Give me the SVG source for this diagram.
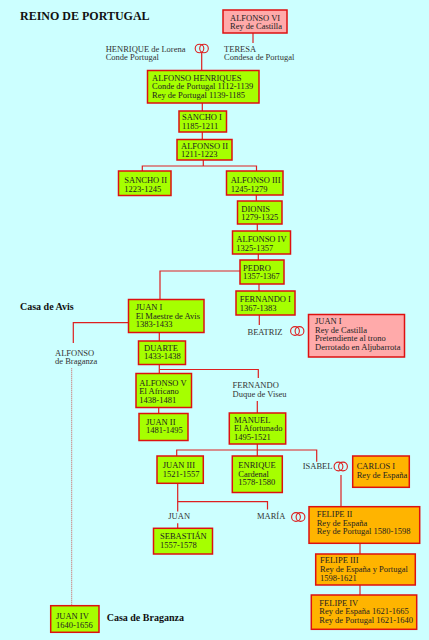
<svg xmlns="http://www.w3.org/2000/svg" width="429" height="640" viewBox="0 0 429 640">
<style>
.bg{fill:#ccffff}
rect.g{fill:#a6ff00;stroke:#dd1111;stroke-width:1.5}
rect.p{fill:#ffaaaa;stroke:#dd1111;stroke-width:1.5}
rect.o{fill:#ffb400;stroke:#dd1111;stroke-width:1.5}
text{font-family:"Liberation Serif","Times New Roman",serif;font-size:8.5px;fill:#222}
text.l{fill:#333}
text.h{font-weight:bold;font-size:10px;fill:#111}
text.t{font-weight:bold;font-size:12px;fill:#111}
.c path{fill:none;stroke:#dd2020;stroke-width:1.2}
.c path.d{stroke:#cc5555;stroke-width:1;stroke-dasharray:1 1}
.r circle{fill:none;stroke:#dd2020;stroke-width:1.1}
</style>
<rect class="bg" x="0" y="0" width="429" height="640"/>
<text class="t" x="20" y="20">REINO DE PORTUGAL</text>
<text class="h" x="20" y="310">Casa de Avis</text>
<text class="h" x="106.7" y="620.7">Casa de Braganza</text>

<g class="c" id="connectors">
<path d="M201.7 53V70"/>
<path d="M253 33V43"/>
<path d="M202.3 103V111"/>
<path d="M202.3 132V139.5"/>
<path d="M203.3 160V166"/>
<path d="M142.3 171V166H256.5V171"/>
<path d="M256.3 195V201"/>
<path d="M257.3 224V231"/>
<path d="M258.3 254V260"/>
<path d="M259 284V291"/>
<path d="M259.3 315V325"/>
<path d="M240 271H160V299.5"/>
<path d="M128.5 322.7H73.3V343"/>
<path class="d" d="M71.7 368.3V605.7"/>
<path d="M159.3 332.7V341"/>
<path d="M159.3 364.3V373.5"/>
<path d="M159.3 369.5H258.3V378"/>
<path d="M158.7 407.3V413.5"/>
<path d="M257.3 401V413"/>
<path d="M257.3 444V456"/>
<path d="M176.7 456V450H316.7V461.7"/>
<path d="M341 475V506.7"/>
<path d="M177.7 483.3V511.5"/>
<path d="M177.7 501.7H267.5V509.5"/>
<path d="M177.7 523.3V528.3"/>
<path d="M360 543.3V554"/>
<path d="M360 585V595"/>
</g>

<g id="rings" class="r">
<circle cx="199.5" cy="48.5" r="4.3"/><circle cx="204" cy="48.5" r="4.3"/>
<circle cx="295" cy="331" r="4.4"/><circle cx="299.5" cy="331" r="4.4"/>
<circle cx="338.5" cy="466.5" r="4.4"/><circle cx="343" cy="466.5" r="4.4"/>
<circle cx="296" cy="517" r="4.4"/><circle cx="300.5" cy="517" r="4.4"/>
</g>

<g id="alfonso6"><rect class="p" x="223" y="10" width="64" height="23"/>
<text x="230" y="20.5">ALFONSO VI</text><text x="230" y="29.2">Rey de Castilla</text></g>
<g id="henrique"><text class="l" x="105.7" y="51.7">HENRIQUE de Lorena</text><text class="l" x="105.7" y="60.2">Conde Portugal</text></g>
<g id="teresa"><text class="l" x="224" y="51.7">TERESA</text><text class="l" x="224" y="60.2">Condesa de Portugal</text></g>
<g id="afh"><rect class="g" x="147.5" y="70.5" width="111.5" height="32.5"/>
<text x="152" y="80.7">ALFONSO HENRIQUES</text><text x="152" y="89.3">Conde de Portugal 1112-1139</text><text x="152" y="97.9">Rey de Portugal 1139-1185</text></g>
<g id="sancho1"><rect class="g" x="179" y="111" width="47.5" height="21"/>
<text x="182" y="120.2">SANCHO I</text><text x="182" y="128.6">1185-1211</text></g>
<g id="alfonso2"><rect class="g" x="177" y="139.5" width="55" height="20.5"/>
<text x="181" y="148.5">ALFONSO II</text><text x="181" y="156.8">1211-1223</text></g>
<g id="sancho2"><rect class="g" x="118.5" y="171" width="52.5" height="24.5"/>
<text x="124.3" y="183.3">SANCHO II</text><text x="124.3" y="191.7">1223-1245</text></g>
<g id="alfonso3"><rect class="g" x="226.5" y="171" width="56.5" height="24"/>
<text x="230.7" y="183.3">ALFONSO III</text><text x="230.7" y="191.7">1245-1279</text></g>
<g id="dionis"><rect class="g" x="237.5" y="201" width="44.5" height="23"/>
<text x="241.3" y="211.7">DIONIS</text><text x="241.3" y="220">1279-1325</text></g>
<g id="alfonso4"><rect class="g" x="232.5" y="231" width="58" height="23"/>
<text x="236.3" y="242.3">ALFONSO IV</text><text x="236.3" y="250.7">1325-1357</text></g>
<g id="pedro"><rect class="g" x="240" y="260" width="44" height="24"/>
<text x="243" y="270.7">PEDRO</text><text x="243" y="279.3">1357-1367</text></g>
<g id="fernando1"><rect class="g" x="236" y="291" width="59" height="24"/>
<text x="239.7" y="302.3">FERNANDO I</text><text x="239.7" y="310.7">1367-1383</text></g>
<g id="beatriz"><text class="l" x="247.5" y="334.5">BEATRIZ</text></g>
<g id="juan1castilla"><rect class="p" x="308.5" y="314.5" width="96" height="42.5"/>
<text x="315" y="323.8">JUAN I</text><text x="315" y="332.5">Rey de Castilla</text><text x="315" y="341.2">Pretendiente al trono</text><text x="315" y="349.9">Derrotado en Aljubarrota</text></g>
<g id="juan1"><rect class="g" x="128.5" y="299.5" width="75.5" height="33"/>
<text x="135.7" y="310">JUAN I</text><text x="135.7" y="318.6">El Maestre de Avis</text><text x="135.7" y="327.3">1383-1433</text></g>
<g id="alfonsobraganza"><text class="l" x="55" y="355.7">ALFONSO</text><text class="l" x="55" y="364.3">de Braganza</text></g>
<g id="duarte"><rect class="g" x="138.5" y="341" width="47" height="23.5"/>
<text x="144" y="350.7">DUARTE</text><text x="144" y="359.3">1433-1438</text></g>
<g id="alfonso5"><rect class="g" x="136" y="373.5" width="55.5" height="34"/>
<text x="139.3" y="386">ALFONSO V</text><text x="139.3" y="394.4">El Africano</text><text x="139.3" y="402.8">1438-1481</text></g>
<g id="juan2"><rect class="g" x="139" y="413.5" width="49" height="27"/>
<text x="146" y="425">JUAN II</text><text x="146" y="433.4">1481-1495</text></g>
<g id="fernandoviseu"><text class="l" x="232.5" y="388.3">FERNANDO</text><text class="l" x="232.5" y="396.7">Duque de Viseu</text></g>
<g id="manuel"><rect class="g" x="229.3" y="413" width="56.4" height="31"/>
<text x="234" y="422.7">MANUEL</text><text x="234" y="431.1">El Afortunado</text><text x="234" y="439.5">1495-1521</text></g>
<g id="juan3"><rect class="g" x="157" y="456" width="46.3" height="27.3"/>
<text x="162.7" y="468.3">JUAN III</text><text x="162.7" y="477">1521-1557</text></g>
<g id="enrique"><rect class="g" x="232.3" y="456" width="50" height="36.5"/>
<text x="238.3" y="468.3">ENRIQUE</text><text x="238.3" y="476.8">Cardenal</text><text x="238.3" y="485.3">1578-1580</text></g>
<g id="isabel"><text class="l" x="302.7" y="469.3">ISABEL</text></g>
<g id="carlos1"><rect class="o" x="352.7" y="456" width="56.6" height="31.3"/>
<text x="356.7" y="469.3">CARLOS I</text><text x="356.7" y="477.8">Rey de España</text></g>
<g id="felipe2"><rect class="o" x="309" y="506.7" width="110.7" height="36.6"/>
<text x="316.7" y="516.7">FELIPE II</text><text x="316.7" y="525.5">Rey de España</text><text x="316.7" y="534.3">Rey de Portugal 1580-1598</text></g>
<g id="juan"><text class="l" x="168.3" y="519.3">JUAN</text></g>
<g id="maria"><text class="l" x="257" y="519.3">MARÍA</text></g>
<g id="sebastian"><rect class="g" x="153.5" y="528.3" width="59" height="25.7"/>
<text x="160" y="539">SEBASTIÁN</text><text x="160" y="547.7">1557-1578</text></g>
<g id="felipe3"><rect class="o" x="315.7" y="554" width="99.6" height="31"/>
<text x="320" y="563.3">FELIPE III</text><text x="320" y="572.2">Rey de España y Portugal</text><text x="320" y="581">1598-1621</text></g>
<g id="felipe4"><rect class="o" x="311.3" y="595" width="105.4" height="34.3"/>
<text x="319.3" y="605.7">FELIPE IV</text><text x="319.3" y="614.4">Rey de España 1621-1665</text><text x="319.3" y="623.2">Rey de Portugal 1621-1640</text></g>
<g id="juan4"><rect class="g" x="50.7" y="605.7" width="48.3" height="26.6"/>
<text x="56" y="619.3">JUAN IV</text><text x="56" y="627.7">1640-1656</text></g>
</svg>
